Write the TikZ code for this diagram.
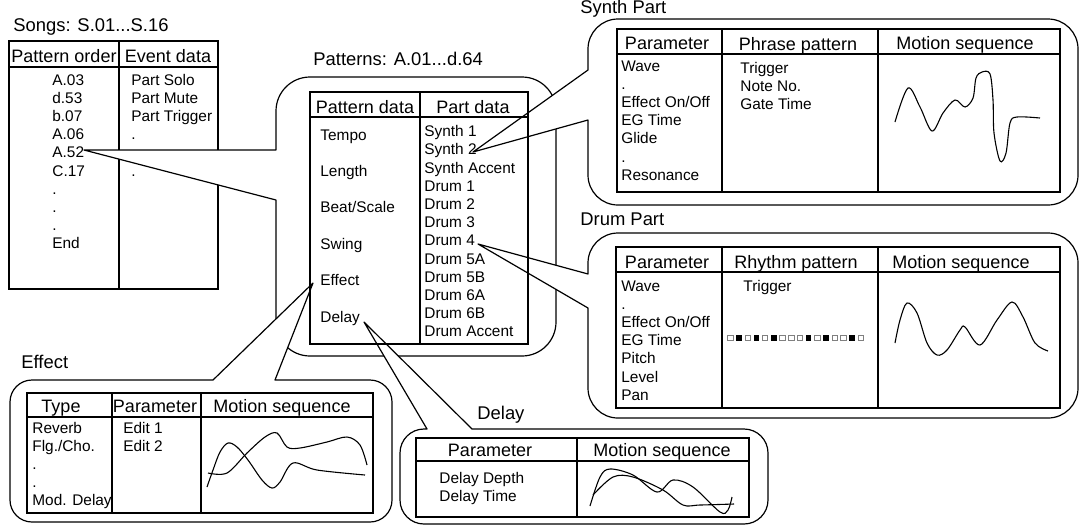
\documentclass[tikz,border=0pt]{standalone}
\usepackage{fontspec}
\setmainfont{Liberation Sans}
\begin{document}
\begin{tikzpicture}[x=0.5pt, y=-0.5pt]
	\tikzset{bulle/.style={draw=black, fill=white, line width=0.6pt, line join=round},
		cadre/.style={draw=black, line width=0.6pt},
		titre/.style={anchor=base west, inner sep=0pt, font=\fontsize{9.2}{11}\selectfont},
		entete/.style={anchor=base, inner sep=0pt, font=\fontsize{9}{11}\selectfont},
		texte/.style={anchor=base west, inner sep=0pt, font=\fontsize{7.7}{9.5}\selectfont},
		courbe/.style={line width=0.55pt, smooth, tension=0.55},
		vide/.style={draw=gray, line width=0.4pt, fill=white},
		plein/.style={fill=black}};

	\useasboundingbox (0,0) rectangle (1080,526);

	\coordinate (tA52)   at ( 84, 150);
	\coordinate (tSynth) at (473, 152);
	\coordinate (tDrum)  at (478, 244);
	\coordinate (tEffet) at (313, 283);
	\coordinate (tDelai) at (364, 322);

	\node[titre] (songs) at (13, 31.5) {Songs: S.01...S.16};
	\draw[cadre] (9,41) rectangle (218,289);
	\draw[cadre] (119,41) -- (119,289);
	\draw[cadre] (9,67) -- (218,67);
	\node[entete] (hOrdre) at ( 64, 62) {Pattern order};
	\node[entete] (hEvent) at (168, 62) {Event data};
	\foreach \t [count=\i] in {A.03,d.53,b.07,A.06,A.52,C.17,.,.,.,End}
		\node[texte] (ordre\i) at (52, {85+18.2*(\i-1)}) {\t};
	\foreach \t [count=\i] in {Part Solo,Part Mute,Part Trigger,.}
		\node[texte] (event\i) at (131, {85+18.2*(\i-1)}) {\t};
	\node[texte] (event6) at (131, 176) {.};

	\draw[bulle] (tA52) -- (276,200) -- (276,322) arc[start angle=180, end angle=270, radius=17pt]
		-- (522,356) arc[start angle=270, end angle=360, radius=17pt]
		-- (556,111) arc[start angle=0, end angle=90, radius=17pt]
		-- (310,77) arc[start angle=90, end angle=180, radius=17pt]
		-- (276,150) -- cycle;
	\node[titre] (patterns) at (313, 65) {Patterns: A.01...d.64};

	\draw[bulle] (tSynth) -- (588,120) -- (588,175) arc[start angle=180, end angle=270, radius=15pt]
		-- (1048,205) arc[start angle=270, end angle=360, radius=15pt]
		-- (1078,49) arc[start angle=0, end angle=90, radius=15pt]
		-- (618,19) arc[start angle=90, end angle=180, radius=15pt]
		-- (588,70) -- cycle;
	\node[titre] (synthPart) at (580, 13) {Synth Part};

	\draw[bulle] (tDrum) -- (588,308) -- (588,388) arc[start angle=180, end angle=270, radius=15pt]
		-- (1048,418) arc[start angle=270, end angle=360, radius=15pt]
		-- (1078,263) arc[start angle=0, end angle=90, radius=15pt]
		-- (618,233) arc[start angle=90, end angle=180, radius=15pt]
		-- (588,274) -- cycle;
	\node[titre] (drumPart) at (580, 225) {Drum Part};

	\draw[bulle] (tEffet) -- (213,380) -- (32,380) arc[start angle=90, end angle=180, radius=11pt]
		-- (10,500) arc[start angle=180, end angle=270, radius=11pt]
		-- (370,522) arc[start angle=270, end angle=360, radius=11pt]
		-- (392,402) arc[start angle=0, end angle=90, radius=11pt]
		-- (275,380) -- cycle;
	\node[titre] (effet) at (21, 368) {Effect};

	\draw[bulle] (tDelai) -- (427,429) -- (424,429) arc[start angle=90, end angle=180, radius=12pt]
		-- (400,500) arc[start angle=180, end angle=270, radius=12pt]
		-- (744,524) arc[start angle=270, end angle=360, radius=12pt]
		-- (768,453) arc[start angle=0, end angle=90, radius=12pt]
		-- (472,429) -- cycle;
	\node[titre] (delai) at (477, 419) {Delay};

	\draw[cadre] (310,92) rectangle (528,344);
	\draw[cadre] (420,92) -- (420,344);
	\draw[cadre] (310,117) -- (528,117);
	\node[entete] (hPattern) at (365, 113) {Pattern data};
	\node[entete] (hPart) at (473, 113) {Part data};
	\foreach \t [count=\i] in {Tempo,Length,Beat/Scale,Swing,Effect,Delay}
		\node[texte] (pat\i) at (320, {140+36.4*(\i-1)}) {\t};
	\foreach \t [count=\i] in {Synth 1,Synth 2,Synth Accent,Drum 1,Drum 2,Drum 3,Drum 4,Drum 5A,Drum 5B,Drum 6A,Drum 6B,Drum Accent}
		\node[texte] (part\i) at (424, {136.7+18.2*(\i-1)}) {\t};

	\draw[cadre] (617,29) rectangle (1060,192);
	\draw[cadre] (722,29) -- (722,192);
	\draw[cadre] (878,29) -- (878,192);
	\draw[cadre] (617,54) -- (1060,54);
	\node[entete] (sParam) at (667, 49.5) {Parameter};
	\node[entete] (sPhrase) at (798, 50) {Phrase pattern};
	\node[entete] (sMotion) at (965, 49) {Motion sequence};
	\foreach \t [count=\i] in {Wave,.,Effect On/Off,EG Time,Glide,.,Resonance}
		\node[texte] (sp\i) at (621, {71+18.2*(\i-1)}) {\t};
	\foreach \t [count=\i] in {Trigger,Note No.,Gate Time}
		\node[texte] (sf\i) at (740, {73.5+18.2*(\i-1)}) {\t};
	\draw[courbe] plot coordinates {(895,122) (908,88) (920,107) (932,131) (943,113) (955,100) (965,107) (973,98) (976,78) (982,72) (990,74) (993,100) (994,133) (1000,161) (1006,153) (1010,123) (1017,117) (1040,118)};

	\draw[cadre] (616,247) rectangle (1060,408);
	\draw[cadre] (722,247) -- (722,408);
	\draw[cadre] (878,247) -- (878,408);
	\draw[cadre] (616,272) -- (1060,272);
	\node[entete] (dParam) at (667, 268.5) {Parameter};
	\node[entete] (dRhythm) at (796, 268.5) {Rhythm pattern};
	\node[entete] (dMotion) at (961, 268.5) {Motion sequence};
	\foreach \t [count=\i] in {Wave,.,Effect On/Off,EG Time,Pitch,Level,Pan}
		\node[texte] (dp\i) at (621, {291+18.2*(\i-1)}) {\t};
	\node[texte] (dTrigger) at (743, 291) {Trigger};
	\foreach \i in {1,3,5,7,8,9,11,13,14,16}
		\draw[vide] ({727.5+8.7*(\i-1)},335) rectangle ++(5.5,5.5);
	\foreach \i in {2,4,6,10,12,15}
		\fill[plein] ({727.5+8.7*(\i-1)},335) rectangle ++(5.5,5.5);
	\draw[courbe] plot coordinates {(895,343) (900,320) (907,303) (917,313) (927,343) (937,355) (947,350) (960,330) (965,327) (980,345) (997,320) (1012,302) (1023,317) (1035,343) (1048,351)};

	\draw[cadre] (27,393) rectangle (373,513);
	\draw[cadre] (112,393) -- (112,513);
	\draw[cadre] (201,393) -- (201,513);
	\draw[cadre] (27,417) -- (373,417);
	\node[entete] (eType) at (61, 412) {Type};
	\node[entete] (eParam) at (155, 412) {Parameter};
	\node[entete] (eMotion) at (282, 412) {Motion sequence};
	\foreach \t [count=\i] in {Reverb,Flg./Cho.,.,.,Mod. Delay}
		\node[texte] (et\i) at (32, {433+18.2*(\i-1)}) {\t};
	\foreach \t [count=\i] in {Edit 1,Edit 2}
		\node[texte] (ee\i) at (123, {433+18.2*(\i-1)}) {\t};
	\draw[courbe] plot coordinates {(207,487) (213,470) (220,452) (228,443) (237,447) (248,460) (262,480) (272,488) (280,482) (293,463) (317,470) (365,475)};
	\draw[courbe] plot coordinates {(208,473) (227,473) (247,453) (265,437) (277,433) (287,447) (300,448) (327,442) (347,437) (360,445) (367,465)};

	\draw[cadre] (416,438) rectangle (749,517);
	\draw[cadre] (577,438) -- (577,517);
	\draw[cadre] (416,461) -- (749,461);
	\node[entete] (lParam) at (490, 456) {Parameter};
	\node[entete] (lMotion) at (662, 456) {Motion sequence};
	\node[texte] (lDepth) at (439, 483) {Delay Depth};
	\node[texte] (lTime) at (439, 501.5) {Delay Time};
	\draw[courbe] plot coordinates {(590,506) (600,477) (610,469) (633,475) (657,492) (673,480) (693,487) (720,512) (728,510) (732,497)};
	\draw[courbe] plot coordinates {(593,495) (613,477) (633,477) (663,490) (683,505) (700,505) (734,504)};

\end{tikzpicture}
\end{document}
